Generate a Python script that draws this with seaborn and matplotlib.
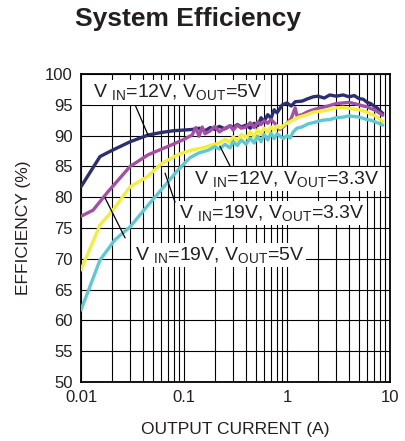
import numpy as np
import pandas as pd
import matplotlib
matplotlib.use('Agg')
import matplotlib.pyplot as plt
import seaborn as sns

# Values (output current in A, efficiency in %)
navy_i = [0.01, 0.0153, 0.02, 0.03, 0.045, 0.06, 0.08, 0.1, 0.12, 0.14, 0.16, 0.18,
          0.2, 0.22, 0.25, 0.28, 0.3, 0.33, 0.36, 0.4, 0.44, 0.48, 0.52, 0.56, 0.6,
          0.65, 0.7, 0.75, 0.8, 0.9, 1.0, 1.1, 1.2, 1.4, 1.6, 1.8, 2.0, 2.3, 2.6,
          3.0, 3.5, 4.0, 4.5, 5.0, 5.5, 6.0, 6.5, 7.0, 7.5, 8.0, 8.5]
navy_eff = [81.7, 86.6, 87.6, 89.0, 90.1, 90.5, 90.8, 90.9, 91.0, 91.2, 90.8, 91.3,
            91.0, 91.5, 91.1, 91.6, 91.3, 91.8, 91.4, 91.7, 91.2, 92.0, 91.6, 92.9, 92.3,
            93.4, 92.8, 94.2, 93.7, 95.0, 95.3, 94.8, 95.5, 95.6, 96.0, 96.3, 96.4, 96.1, 96.6,
            96.4, 96.6, 96.3, 96.5, 96.0, 95.9, 95.4, 95.2, 94.8, 94.5, 94.0, 93.6]

mag_i = [0.01, 0.0131, 0.0183, 0.03, 0.045, 0.076, 0.1, 0.12, 0.13, 0.14, 0.15, 0.16,
         0.18, 0.2, 0.22, 0.25, 0.28, 0.3, 0.33, 0.36, 0.4, 0.44, 0.48, 0.52, 0.56,
         0.6, 0.65, 0.7, 0.75, 0.8, 0.85, 0.9, 1.0, 1.1, 1.2, 1.25, 1.4, 1.6, 1.8, 2.1,
         2.5, 3.0, 3.5, 4.0, 4.5, 5.0, 5.5, 6.0, 6.5, 7.0, 7.5, 8.0, 8.5]
mag_eff = [76.9, 77.9, 80.9, 85.0, 86.9, 88.5, 89.4, 90.1, 91.3, 89.9, 91.4, 90.3,
           90.8, 91.5, 90.6, 91.2, 91.6, 90.9, 91.7, 91.2, 91.4, 92.1, 91.3, 92.2, 91.8,
           92.4, 92.0, 92.6, 92.1, 91.6, 91.0, 91.3, 92.0, 92.8, 94.5, 93.2, 93.4, 93.9, 94.2, 94.5,
           94.8, 95.2, 95.3, 95.4, 95.2, 95.0, 94.8, 94.7, 94.4, 94.2, 93.9, 93.6, 93.3]

yel_i = [0.01, 0.0153, 0.0204, 0.03, 0.0437, 0.0611, 0.09, 0.122, 0.15, 0.19, 0.22,
         0.25, 0.28, 0.3, 0.33, 0.36, 0.4, 0.44, 0.48, 0.52, 0.56, 0.6, 0.65, 0.7,
         0.75, 0.8, 0.86, 0.95, 1.05, 1.14, 1.3, 1.5, 1.8, 2.2, 2.6, 3.0, 3.5, 4.0,
         4.5, 5.0, 5.5, 6.0, 6.5, 7.0, 7.5, 8.0, 8.5]
yel_eff = [68.2, 75.5, 77.9, 81.7, 83.3, 85.5, 87.0, 87.7, 88.0, 88.5, 88.8,
           89.4, 88.9, 89.8, 89.2, 90.2, 89.6, 90.6, 89.8, 91.0, 90.2, 91.2, 90.6, 91.4,
           90.8, 91.6, 91.2, 91.8, 92.2, 92.5, 93.0, 93.3, 93.8, 94.0, 94.2, 94.5, 94.6, 94.4,
           94.3, 94.2, 94.0, 93.8, 93.5, 93.3, 93.0, 92.6, 92.3]

cyan_i = [0.01, 0.0153, 0.0214, 0.03, 0.0437, 0.0684, 0.0873, 0.114, 0.14, 0.17, 0.2,
          0.22, 0.25, 0.28, 0.3, 0.33, 0.36, 0.4, 0.44, 0.48, 0.52, 0.56, 0.6, 0.65,
          0.7, 0.75, 0.8, 0.86, 0.92, 1.0, 1.07, 1.15, 1.25, 1.4, 1.6, 1.9, 2.2, 2.6,
          3.0, 3.5, 4.0, 4.5, 5.0, 5.5, 6.0, 6.5, 7.0, 7.5, 8.0, 8.5]
cyan_eff = [61.7, 69.8, 73.1, 75.2, 78.5, 82.3, 84.4, 86.4, 87.2, 87.6, 88.2,
            87.8, 88.6, 88.0, 89.0, 88.4, 89.3, 88.6, 89.6, 88.8, 89.9, 89.0, 90.2, 89.3,
            90.4, 89.5, 90.3, 89.9, 89.5, 90.0, 89.6, 90.6, 91.2, 91.4, 91.9, 92.2, 92.5, 92.6,
            92.9, 93.0, 93.2, 93.1, 93.0, 92.8, 92.6, 92.5, 92.3, 92.1, 91.9, 91.7]

series_names = ['VIN=12V, VOUT=5V', 'VIN=19V, VOUT=5V', 'VIN=12V, VOUT=3.3V', 'VIN=19V, VOUT=3.3V']
series_colors = ['#2b2f6e', '#a44ea6', '#f1ee3c', '#5ec9d3']

frames = []
for name, xs, ys in zip(series_names, [navy_i, mag_i, yel_i, cyan_i],
                        [navy_eff, mag_eff, yel_eff, cyan_eff]):
    frames.append(pd.DataFrame({'current': xs, 'eff': ys, 'series': name}))
data = pd.concat(frames, ignore_index=True)

sns.set_style('white')
plt.rcParams['font.family'] = ['Liberation Sans', 'DejaVu Sans']
plt.rcParams['mathtext.fontset'] = 'custom'
plt.rcParams['mathtext.rm'] = 'Liberation Sans'
plt.rcParams['mathtext.it'] = 'Liberation Sans'

fig = plt.figure(figsize=(4.06, 4.41), dpi=100)
ax = fig.add_axes([81 / 406, 1 - 382 / 441, 309 / 406, 308 / 441])

sns.lineplot(data=data, x='current', y='eff', hue='series', hue_order=series_names,
             palette=series_colors, estimator=None, sort=False, lw=2.4, legend=False,
             ax=ax, zorder=3)

ax.set_xscale('log')
ax.set_xlim(0.01, 10)
ax.set_ylim(50, 100)
ax.set_yticks(np.arange(50, 101, 5))
ax.set_xticks([0.01, 0.1, 1, 10])
ax.set_xticklabels(['0.01', '0.1', '1', '10'])
ax.grid(which='both', color='black', lw=0.8, zorder=1)
ax.set_axisbelow(True)
ax.tick_params(which='both', length=0, labelsize=12, pad=6, colors='#231f20')
for s in ax.spines.values():
    s.set_color('black')
    s.set_linewidth(1.3)
ax.set_xlabel('OUTPUT CURRENT (A)', fontsize=12.5, color='#231f20', labelpad=12)
ax.set_ylabel('EFFICIENCY (%)', fontsize=12.5, color='#231f20', labelpad=10)

fig.text(0.184, 0.957, 'System Efficiency', fontsize=19, fontweight='bold',
         color='#231f20', va='center', ha='left')

# curve labels with leader lines
labels = [
    (r'V $_{\mathrm{IN}}$=12V, V$_{\mathrm{OUT}}$=5V', (0.0875, 97.0), (0.0335, 95.0), (0.0447, 90.1)),
    (r'V $_{\mathrm{IN}}$=12V, V$_{\mathrm{OUT}}$=3.3V', (1.0, 82.9), (0.293, 84.4), (0.223, 88.3)),
    (r'V $_{\mathrm{IN}}$=19V, V$_{\mathrm{OUT}}$=3.3V', (0.71, 77.4), (0.0818, 79.2), (0.0655, 83.9)),
    (r'V $_{\mathrm{IN}}$=19V, V$_{\mathrm{OUT}}$=5V', (0.22, 70.6), (0.0268, 73.4), (0.0171, 79.9)),
]
for text, pos, start, end in labels:
    ax.annotate('', xy=end, xytext=start,
                arrowprops=dict(arrowstyle='-', color='black', lw=0.9, shrinkA=0, shrinkB=0),
                zorder=4)
    ax.text(pos[0], pos[1], text, fontsize=14, ha='center', va='center', color='#231f20',
            zorder=5, bbox=dict(facecolor='white', edgecolor='none', pad=1.5))

fig.savefig('out.png', dpi=100)
